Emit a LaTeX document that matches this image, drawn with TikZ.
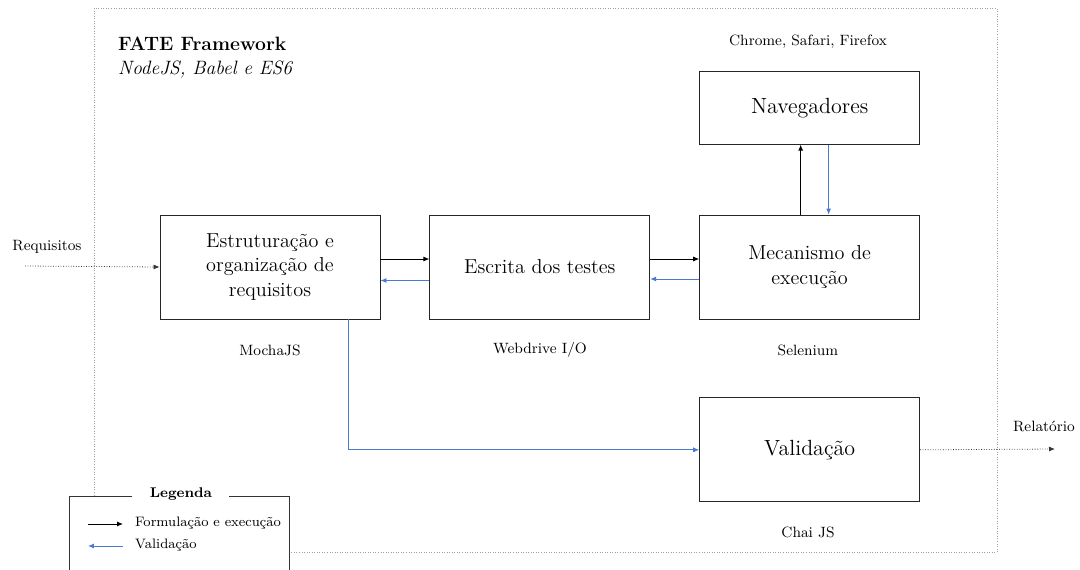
\documentclass[tikz,border=0pt]{standalone}
\usetikzlibrary{arrows.meta,positioning}
\definecolor{valblue}{HTML}{4A7BD1}
\definecolor{framegray}{HTML}{A0A0A0}
\tikzset{procbox/.style={draw=black!85,line width=0.5pt,minimum width=4.4cm,minimum height=2.08cm,
 align=center,font=\fontsize{11.5}{13.8}\selectfont,inner sep=2pt},
 bigtext/.style={font=\fontsize{12.5}{14}\selectfont},
 tag/.style={font=\fontsize{8.5}{10}\selectfont},
 legtag/.style={font=\fontsize{7.8}{9}\selectfont},
 fwdarrow/.style={-{Latex[length=1.2mm,width=1mm]},draw=black,line width=0.5pt},
 valarrow/.style={-{Latex[length=1.2mm,width=1mm]},draw=valblue,line width=0.5pt},
 ioarrow/.style={-{Latex[length=1.2mm,width=1mm]},draw=black!80,densely dotted,line width=0.45pt}}

\begin{document}
\begin{tikzpicture}[x=0.02cm,y=-0.02cm,node distance=0.98cm]
\useasboundingbox (0,0) rectangle (1080,569);
% framework frame
\draw[framegray,densely dotted,line width=0.45pt] (94,8) rectangle (997,552);
\node[anchor=west,font=\fontsize{11}{13}\selectfont\bfseries] (title) at (112,44) {FATE Framework};
\node[anchor=west,font=\fontsize{11}{13}\selectfont\itshape] (stack) at (112,70) {NodeJS, Babel e ES6};
% process boxes
\node[procbox] (struct) at (270,267) {Estruturação e\\organização de\\requisitos};
\node[procbox,right=of struct] (write) {Escrita dos testes};
\node[procbox,right=of write] (engine) {Mecanismo de\\execução};
\node[procbox,bigtext,minimum height=1.46cm,above=1.4cm of engine] (browsers) {Navegadores};
\node[procbox,bigtext,below=1.56cm of engine] (check) {Validação};
% tool labels
\node[tag] (mocha) at (270,350) {MochaJS};
\node[tag] (wdio) at (540,350) {Webdrive I/O};
\node[tag] (selen) at (808,350) {Selenium};
\node[tag] (chai) at (808,532) {Chai JS};
\node[tag] (brlist) at (808,42) {Chrome, Safari, Firefox};
% input and output
\coordinate (reqin) at (25,266);
\node[tag] (reqlabel) at (47,247) {Requisitos};
\coordinate (repout) at (1055,449);
\node[tag] (replabel) at (1044,426) {Relatório};
\draw[ioarrow] (reqin) -- (struct.west);
\draw[ioarrow] (check.east) -- (repout);
% flow
\draw[fwdarrow] ([yshift=0.16cm]struct.east) -- ([yshift=0.16cm]write.west);
\draw[valarrow] ([yshift=-0.27cm]write.west) -- ([yshift=-0.27cm]struct.east);
\draw[fwdarrow] ([yshift=0.16cm]write.east) -- ([yshift=0.16cm]engine.west);
\draw[valarrow] ([yshift=-0.24cm]engine.west) -- ([yshift=-0.24cm]write.east);
\draw[fwdarrow] ([xshift=-0.18cm]engine.north) -- ([xshift=-0.18cm]browsers.south);
\draw[valarrow] ([xshift=0.38cm]browsers.south) -- ([xshift=0.38cm]engine.north);
\draw[valarrow] ([xshift=1.56cm]struct.south) |- (check.west);
% legend
\fill[white] (69,496) rectangle (289,575);
\draw[black!80,line width=0.5pt] (132,496) -- (69,496) -- (69,575);
\draw[black!80,line width=0.5pt] (229,496) -- (289,496) -- (289,575);
\node[font=\fontsize{8}{10}\selectfont\bfseries] (legtitle) at (181,494) {Legenda};
\coordinate (legA1) at (88,524);
\coordinate (legA2) at (123,524);
\coordinate (legB1) at (123,546);
\coordinate (legB2) at (88,546);
\draw[fwdarrow] (legA1) -- (legA2);
\draw[valarrow] (legB1) -- (legB2);
\node[legtag,anchor=west] (legfwd) at (129,523) {Formulação e execução};
\node[legtag,anchor=west] (legval) at (129,545) {Validação};
\end{tikzpicture}
\end{document}
